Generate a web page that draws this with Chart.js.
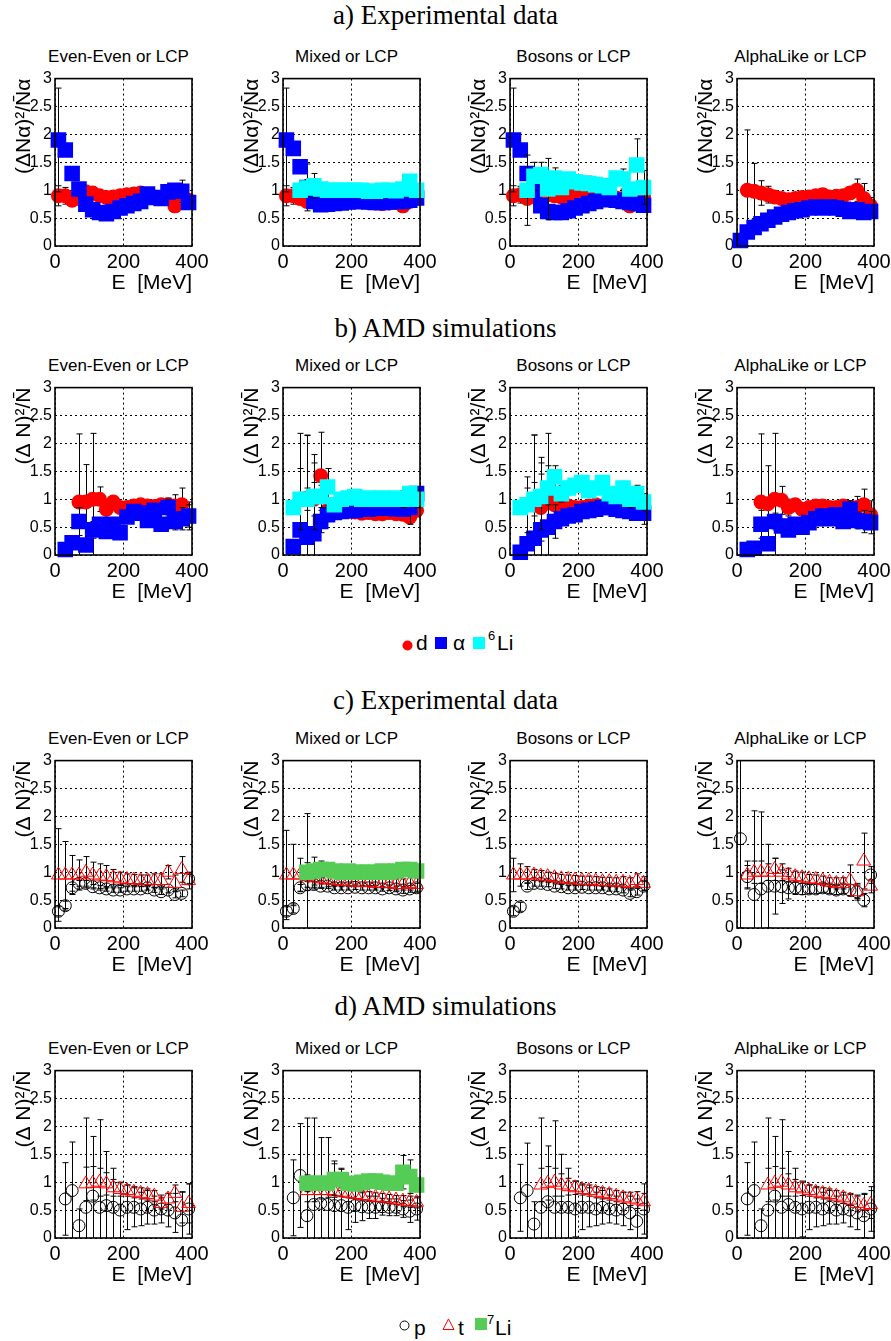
<!DOCTYPE html>
<html>
<head>
<meta charset="utf-8">
<title>Fluctuations of light charged particles</title>
<script src="https://cdn.jsdelivr.net/npm/chart.js@4.4.1/dist/chart.umd.min.js"></script>
<style>
  html, body { margin: 0; padding: 0; background: #fff; }
  #page { position: relative; width: 891px; height: 1341px; overflow: hidden;
          font-family: "Liberation Sans", Arial, sans-serif; color: #000; }
  .rowtitle { position: absolute; left: 0; width: 891px; text-align: center;
              font-family: "Liberation Serif", "Times New Roman", serif;
              font-size: 27px; line-height: 27px; white-space: nowrap; }
  .ptitle { position: absolute; width: 200px; text-align: center;
            font-size: 17px; line-height: 17px; white-space: nowrap; }
  .lg { position: absolute; line-height: 1; white-space: nowrap; }
  canvas { position: absolute; }
</style>
</head>
<body>
<div id="page"></div>
<script>
// energy bins (MeV)
const E = [10, 30, 50, 70, 90, 110, 130, 150, 170, 190, 210, 230, 250, 270, 290, 310, 330, 350, 370, 390];

// a) Experimental data : d, alpha, 6Li
const a1_d = [0.9, 0.9, 0.82, 0.85, 0.97, 0.95, 0.9, 0.87, 0.88, 0.9, 0.92, 0.93, 0.95, 0.9, 0.88, 0.87, 0.86, 0.72, 0.85, 0.82];
const a1_dErr = [0.18, 0.15, 0.05, 0.05, 0.08, 0.05, 0.04, 0.04, 0.04, 0.04, 0.04, 0.04, 0.04, 0.04, 0.05, 0.05, 0.05, 0.1, 0.08, 0.08];
const a1_alpha = [1.9, 1.72, 1.3, 1.02, 0.75, 0.65, 0.6, 0.58, 0.62, 0.68, 0.72, 0.76, 0.8, 0.93, 0.87, 0.85, 0.97, 1.0, 0.98, 0.78];
const a1_alphaErr = [0.93, 0.1, 0.08, 0.06, 0.05, 0.04, 0.04, 0.04, 0.04, 0.04, 0.04, 0.04, 0.05, 0.05, 0.05, 0.06, 0.08, 0.12, 0.2, 0.1];

const a2_d = [0.9, 0.9, 0.85, 0.8, 0.8, 0.78, 0.78, 0.78, 0.78, 0.79, 0.8, 0.8, 0.78, 0.77, 0.76, 0.77, 0.78, 0.72, 0.8, 0.85];
const a2_dErr = [0.18, 0.15, 0.05, 0.05, 0.05, 0.04, 0.04, 0.04, 0.04, 0.04, 0.04, 0.04, 0.04, 0.04, 0.05, 0.05, 0.05, 0.08, 0.06, 0.06];
const a2_alpha = [1.9, 1.75, 1.42, 1.05, 0.8, 0.74, 0.75, 0.76, 0.77, 0.79, 0.8, 0.8, 0.79, 0.78, 0.78, 0.79, 0.8, 0.8, 0.82, 0.86];
const a2_alphaErr = [0.93, 0.12, 0.1, 0.42, 0.1, 0.05, 0.04, 0.04, 0.04, 0.04, 0.04, 0.04, 0.04, 0.04, 0.05, 0.05, 0.05, 0.06, 0.06, 0.06];
const a2_li6 = [null, null, 1.0, 1.04, 1.08, 1.02, 1.0, 1.0, 1.0, 1.0, 1.0, 1.0, 0.98, 0.98, 1.0, 1.0, 0.99, 1.02, 1.16, 1.0];
const a2_li6Err = [0, 0, 0.1, 0.15, 0.22, 0.05, 0.05, 0.05, 0.05, 0.05, 0.05, 0.05, 0.05, 0.05, 0.05, 0.05, 0.06, 0.08, 0.12, 0.08];

const a3_d = [0.9, 0.92, 0.85, 0.88, 0.95, 0.92, 0.9, 0.88, 0.9, 0.93, 0.95, 0.96, 0.95, 0.93, 0.9, 0.86, 0.85, 0.72, 0.85, 0.9];
const a3_dErr = [0.18, 0.15, 0.05, 0.05, 0.06, 0.05, 0.04, 0.04, 0.04, 0.04, 0.04, 0.04, 0.04, 0.04, 0.05, 0.05, 0.05, 0.1, 0.08, 0.08];
const a3_alpha = [1.9, 1.72, 1.3, 1.0, 0.72, 0.62, 0.6, 0.6, 0.63, 0.68, 0.72, 0.76, 0.8, 0.83, 0.85, 0.82, 0.8, 0.78, 0.76, 0.73];
const a3_alphaErr = [0.93, 0.1, 0.08, 0.06, 0.05, 0.04, 0.04, 0.04, 0.04, 0.04, 0.04, 0.04, 0.05, 0.05, 0.05, 0.06, 0.08, 0.1, 0.1, 0.1];
const a3_li6 = [null, null, 1.0, 1.25, 1.28, 1.02, 1.22, 1.05, 1.2, 1.15, 1.13, 1.12, 1.1, 1.08, 1.05, 1.22, 1.2, 1.02, 1.45, 1.05];
const a3_li6Err = [0, 0, 0.63, 0.25, 0.22, 0.55, 0.18, 0.1, 0.1, 0.12, 0.12, 0.13, 0.12, 0.1, 0.1, 0.1, 0.18, 0.1, 0.47, 0.3];

const a4_d = [null, 1.0, 0.98, 0.95, 0.92, 0.88, 0.85, 0.83, 0.85, 0.87, 0.88, 0.9, 0.92, 0.88, 0.89, 0.9, 0.95, 1.0, 0.85, 0.72];
const a4_dErr = [0, 1.08, 0.5, 0.22, 0.15, 0.06, 0.05, 0.05, 0.05, 0.05, 0.05, 0.05, 0.05, 0.05, 0.05, 0.06, 0.1, 0.2, 0.27, 0.15];
const a4_alpha = [0.1, 0.25, 0.33, 0.4, 0.46, 0.52, 0.57, 0.6, 0.63, 0.65, 0.68, 0.7, 0.68, 0.7, 0.68, 0.66, 0.62, 0.65, 0.6, 0.62];
const a4_alphaErr = [0.03, 0.03, 0.03, 0.03, 0.03, 0.03, 0.03, 0.03, 0.03, 0.03, 0.04, 0.04, 0.04, 0.04, 0.05, 0.05, 0.06, 0.08, 0.1, 0.1];

// b) AMD simulations : d, alpha, 6Li
const b1_d = [null, null, null, 0.95, 0.95, 1.0, 1.0, 0.82, 0.95, 0.85, 0.85, 0.88, 0.9, 0.88, 0.87, 0.9, 0.9, 0.88, 0.9, 0.7];
const b1_dErr = [0, 0, 0, 1.22, 0.67, 1.18, 0.22, 0.15, 0.1, 0.05, 0.05, 0.05, 0.05, 0.05, 0.05, 0.1, 0.12, 0.2, 0.3, 0.25];
const b1_alpha = [null, 0.1, 0.22, 0.6, 0.18, 0.45, 0.55, 0.42, 0.55, 0.4, 0.68, 0.78, 0.75, 0.62, 0.8, 0.55, 0.85, 0.6, 0.65, 0.7];
const b1_alphaErr = [0, 0.05, 0.1, 0.25, 0.1, 0.15, 0.12, 0.1, 0.1, 0.1, 0.08, 0.08, 0.08, 0.1, 0.1, 0.1, 0.15, 0.15, 0.2, 0.2];

const b2_d = [null, null, null, 1.02, 1.0, 1.42, 0.8, 0.78, 0.78, 0.78, 0.77, 0.75, 0.76, 0.74, 0.74, 0.76, 0.74, 0.73, 0.68, 0.8];
const b2_dErr = [0, 0, 0, 1.12, 0.3, 0.78, 0.1, 0.05, 0.05, 0.05, 0.05, 0.05, 0.05, 0.05, 0.05, 0.05, 0.05, 0.08, 0.1, 0.1];
const b2_alpha = [null, 0.15, 0.45, 0.32, 0.38, 0.6, 0.72, 0.76, 0.78, 0.8, 0.8, 0.82, 0.82, 0.84, 0.84, 0.84, 0.83, 0.82, 0.85, 1.1];
const b2_alphaErr = [0, 0.1, 1.73, 1.83, 1.42, 0.2, 0.12, 0.08, 0.06, 0.05, 0.05, 0.05, 0.05, 0.05, 0.05, 0.06, 0.08, 0.1, 0.3, 0.12];
const b2_li6 = [null, 0.85, 1.0, 1.0, 1.05, 1.05, 1.22, 0.9, 1.0, 1.02, 1.05, 1.0, 1.02, 1.0, 1.02, 1.0, 1.02, 1.0, 1.1, 1.0];
const b2_li6Err = [0, 0.1, 0.55, 0.2, 0.6, 0.2, 0.33, 0.1, 0.1, 0.1, 0.08, 0.08, 0.08, 0.08, 0.08, 0.08, 0.1, 0.15, 0.1, 0.15];

const b3_d = [null, null, null, 0.9, 0.85, 1.0, 0.9, 0.85, 0.88, 0.85, 0.85, 0.88, 0.9, 0.88, 0.9, 0.9, 0.88, 0.85, 0.82, 0.75];
const b3_dErr = [0, 0, 0, 1.25, 0.6, 1.18, 0.2, 0.15, 0.1, 0.05, 0.05, 0.05, 0.05, 0.05, 0.05, 0.08, 0.1, 0.15, 0.2, 0.2];
const b3_alpha = [null, 0.05, 0.2, 0.3, 0.45, 0.5, 0.6, 0.65, 0.7, 0.72, 0.78, 0.8, 0.82, 0.85, 0.85, 0.82, 0.8, 0.78, 0.75, 0.75];
const b3_alphaErr = [0, 0.1, 1.0, 1.85, 1.3, 1.1, 0.3, 0.1, 0.08, 0.06, 0.05, 0.05, 0.05, 0.05, 0.06, 0.06, 0.08, 0.1, 0.12, 0.12];
const b3_li6 = [null, 0.85, 0.9, 1.0, 1.05, 1.2, 1.4, 1.1, 1.2, 1.25, 1.3, 1.15, 1.2, 1.3, 1.1, 1.05, 1.2, 1.0, 1.1, 0.95];
const b3_li6Err = [0, 0.1, 0.5, 0.3, 0.6, 0.3, 0.2, 0.15, 0.12, 0.12, 0.1, 0.1, 0.1, 0.1, 0.1, 0.1, 0.12, 0.15, 0.15, 0.15];

const b4_d = [null, null, null, 0.95, 0.92, 1.0, 0.98, 0.85, 0.9, 0.82, 0.85, 0.88, 0.88, 0.85, 0.85, 0.88, 0.85, 0.85, 0.9, 0.72];
const b4_dErr = [0, 0, 0, 1.22, 0.68, 1.18, 0.25, 0.15, 0.1, 0.05, 0.05, 0.05, 0.05, 0.05, 0.05, 0.1, 0.12, 0.2, 0.28, 0.25];
const b4_alpha = [null, 0.1, 0.12, 0.55, 0.2, 0.6, 0.52, 0.45, 0.55, 0.5, 0.58, 0.65, 0.7, 0.65, 0.72, 0.6, 0.82, 0.62, 0.6, 0.58];
const b4_alphaErr = [0, 0.05, 0.1, 0.25, 0.1, 0.15, 0.12, 0.1, 0.1, 0.1, 0.08, 0.08, 0.08, 0.1, 0.1, 0.1, 0.15, 0.15, 0.2, 0.2];

// c) Experimental data : p, t, 7Li
const c1_p = [0.3, 0.4, 0.72, 0.8, 0.8, 0.74, 0.72, 0.7, 0.68, 0.68, 0.7, 0.7, 0.7, 0.72, 0.68, 0.65, 0.68, 0.6, 0.62, 0.88];
const c1_pErr = [0.08, 0.08, 0.06, 0.05, 0.05, 0.04, 0.04, 0.04, 0.04, 0.04, 0.04, 0.04, 0.04, 0.04, 0.04, 0.05, 0.05, 0.06, 0.06, 0.08];
const c1_t = [0.95, 0.95, 0.95, 0.95, 1.0, 0.95, 0.93, 0.92, 0.9, 0.88, 0.87, 0.86, 0.85, 0.85, 0.85, 0.85, 1.0, 0.8, 1.05, 0.85];
const c1_tErr = [0.83, 0.6, 0.35, 0.27, 0.28, 0.23, 0.22, 0.2, 0.15, 0.12, 0.1, 0.1, 0.1, 0.1, 0.12, 0.12, 0.12, 0.15, 0.23, 0.15];

const c2_p = [0.3, 0.35, 0.72, 0.78, 0.78, 0.75, 0.75, 0.72, 0.72, 0.72, 0.73, 0.72, 0.72, 0.72, 0.7, 0.72, 0.7, 0.68, 0.7, 0.72];
const c2_pErr = [0.08, 0.08, 0.06, 0.05, 0.05, 0.04, 0.04, 0.04, 0.04, 0.04, 0.04, 0.04, 0.04, 0.04, 0.04, 0.05, 0.05, 0.06, 0.06, 0.08];
const c2_t = [0.95, 0.95, 0.95, 0.92, 0.9, 0.88, 0.86, 0.85, 0.84, 0.83, 0.82, 0.82, 0.82, 0.8, 0.8, 0.8, 0.78, 0.78, 0.8, 0.78];
const c2_tErr = [0.8, 0.55, 0.3, 0.25, 0.2, 0.15, 0.12, 0.1, 0.1, 0.08, 0.08, 0.08, 0.08, 0.08, 0.08, 0.08, 0.1, 0.1, 0.12, 0.12];
const c2_li7 = [null, null, null, 1.0, 1.02, 1.05, 1.05, 1.02, 1.0, 1.02, 1.0, 1.0, 1.0, 1.0, 1.02, 1.0, 1.02, 1.05, 1.05, 1.02];
const c2_li7Err = [0, 0, 0, 1.05, 0.25, 0.15, 0.12, 0.1, 0.08, 0.08, 0.08, 0.08, 0.08, 0.08, 0.08, 0.08, 0.1, 0.1, 0.12, 0.12];

const c3_p = [0.3, 0.38, 0.75, 0.8, 0.8, 0.78, 0.75, 0.74, 0.72, 0.72, 0.73, 0.72, 0.72, 0.72, 0.7, 0.7, 0.68, 0.62, 0.65, 0.75];
const c3_pErr = [0.08, 0.08, 0.06, 0.05, 0.05, 0.04, 0.04, 0.04, 0.04, 0.04, 0.04, 0.04, 0.04, 0.04, 0.04, 0.05, 0.05, 0.06, 0.06, 0.08];
const c3_t = [0.95, 0.95, 0.95, 0.95, 0.93, 0.92, 0.9, 0.88, 0.87, 0.86, 0.85, 0.85, 0.84, 0.83, 0.83, 0.82, 0.82, 0.8, 0.85, 0.8];
const c3_tErr = [0.3, 0.2, 0.15, 0.1, 0.1, 0.08, 0.08, 0.08, 0.08, 0.08, 0.08, 0.08, 0.08, 0.08, 0.08, 0.08, 0.1, 0.1, 0.12, 0.12];

const c4_p = [1.6, 0.92, 0.6, 0.7, 0.75, 0.75, 0.74, 0.72, 0.72, 0.7, 0.7, 0.7, 0.72, 0.7, 0.68, 0.7, 0.68, 0.65, 0.5, 0.95];
const c4_pErr = [1.6, 0.2, 1.5, 1.38, 0.75, 0.5, 0.3, 0.2, 0.12, 0.1, 0.08, 0.08, 0.08, 0.08, 0.08, 0.08, 0.1, 0.12, 0.12, 0.15];
const c4_t = [null, 0.95, 1.0, 1.0, 1.0, 1.05, 1.0, 0.95, 0.92, 0.9, 0.88, 0.87, 0.85, 0.82, 0.8, 0.8, 0.85, 0.65, 1.2, 0.75];
const c4_tErr = [0, 0.25, 0.2, 0.2, 0.15, 0.2, 0.15, 0.12, 0.1, 0.1, 0.08, 0.08, 0.08, 0.08, 0.1, 0.1, 0.28, 0.15, 0.5, 0.12];

// d) AMD simulations : p, t, 7Li
const d1_p = [null, 0.7, 0.85, 0.22, 0.55, 0.75, 0.55, 0.58, 0.55, 0.5, 0.55, 0.55, 0.52, 0.55, 0.5, 0.52, 0.5, 0.45, 0.32, 0.52];
const d1_pErr = [0, 0.65, 0.87, 0.3, 1.6, 1.07, 1.57, 0.97, 0.7, 0.5, 0.4, 0.35, 0.3, 0.3, 0.25, 0.25, 0.3, 0.35, 0.5, 0.45];
const d1_t = [null, null, null, null, 0.97, 0.98, 1.0, 0.97, 0.9, 0.87, 0.85, 0.82, 0.8, 0.78, 0.75, 0.62, 0.7, 0.8, 0.55, 0.62];
const d1_tErr = [0, 0, 0, 0, 0.3, 0.3, 0.25, 0.2, 0.15, 0.12, 0.1, 0.1, 0.1, 0.1, 0.1, 0.1, 0.1, 0.15, 0.28, 0.35];

const d2_p = [null, 0.72, 1.12, 0.4, 0.6, 0.62, 0.6, 0.58, 0.58, 0.55, 0.58, 0.56, 0.55, 0.55, 0.56, 0.55, 0.55, 0.52, 0.48, 0.52];
const d2_pErr = [0, 0.68, 0.93, 1.75, 1.55, 1.18, 1.2, 0.8, 0.65, 0.4, 0.3, 0.25, 0.2, 0.2, 0.15, 0.15, 0.15, 0.15, 0.2, 0.2];
const d2_t = [null, null, null, 0.85, 0.85, 0.85, 0.85, 0.83, 0.82, 0.8, 0.78, 0.76, 0.75, 0.73, 0.72, 0.7, 0.68, 0.66, 0.65, 0.64];
const d2_tErr = [0, 0, 0, 0.2, 0.2, 0.15, 0.12, 0.1, 0.08, 0.08, 0.08, 0.08, 0.08, 0.08, 0.08, 0.08, 0.08, 0.1, 0.1, 0.1];
const d2_li7 = [null, null, null, 0.98, 0.98, 0.98, 0.98, 1.05, 1.05, 0.98, 0.97, 1.0, 1.02, 1.02, 1.0, 0.98, 0.98, 1.18, 1.1, 0.95];
const d2_li7Err = [0, 0, 0, 0.15, 0.12, 0.1, 0.1, 0.28, 0.2, 0.1, 0.08, 0.08, 0.08, 0.08, 0.08, 0.08, 0.1, 0.3, 0.3, 0.12];

const d3_p = [null, 0.72, 0.85, 0.25, 0.55, 0.65, 0.55, 0.55, 0.55, 0.52, 0.55, 0.55, 0.52, 0.55, 0.52, 0.5, 0.52, 0.45, 0.3, 0.52];
const d3_pErr = [0, 0.6, 0.85, 0.4, 1.6, 1.0, 1.55, 0.95, 0.7, 0.5, 0.4, 0.35, 0.3, 0.3, 0.25, 0.25, 0.3, 0.3, 0.4, 0.45];
const d3_t = [null, null, null, null, 0.95, 0.98, 1.0, 0.95, 0.92, 0.9, 0.87, 0.85, 0.82, 0.8, 0.78, 0.75, 0.72, 0.7, 0.68, 0.65];
const d3_tErr = [0, 0, 0, 0, 0.3, 0.3, 0.25, 0.2, 0.15, 0.12, 0.1, 0.1, 0.1, 0.1, 0.1, 0.1, 0.1, 0.12, 0.15, 0.15];

const d4_p = [null, 0.7, 0.85, 0.22, 0.5, 0.75, 0.55, 0.6, 0.55, 0.52, 0.55, 0.55, 0.52, 0.55, 0.5, 0.52, 0.5, 0.45, 0.4, 0.52];
const d4_pErr = [0, 0.65, 0.87, 0.3, 1.65, 1.07, 1.57, 0.95, 0.7, 0.5, 0.4, 0.35, 0.3, 0.3, 0.25, 0.25, 0.3, 0.3, 0.4, 0.4];
const d4_t = [null, null, null, null, 0.95, 0.98, 1.0, 0.95, 0.9, 0.88, 0.85, 0.82, 0.8, 0.78, 0.75, 0.72, 0.68, 0.62, 0.58, 0.6];
const d4_tErr = [0, 0, 0, 0, 0.3, 0.3, 0.25, 0.2, 0.15, 0.12, 0.1, 0.1, 0.1, 0.1, 0.1, 0.1, 0.1, 0.15, 0.2, 0.25];

const colTitles = ["Even-Even or LCP", "Mixed or LCP", "Bosons or LCP", "AlphaLike or LCP"];
const rowTitles = ["a) Experimental data", "b) AMD simulations", "c) Experimental data", "d) AMD simulations"];
const yLabels = ["(ΔNα)²/N\u0304α", "(Δ N)²/N\u0304", "(Δ N)²/N\u0304", "(Δ N)²/N\u0304"];

const panels = [
  [[["d", a1_d, a1_dErr], ["alpha", a1_alpha, a1_alphaErr]],
   [["d", a2_d, a2_dErr], ["alpha", a2_alpha, a2_alphaErr], ["li6", a2_li6, a2_li6Err]],
   [["d", a3_d, a3_dErr], ["alpha", a3_alpha, a3_alphaErr], ["li6", a3_li6, a3_li6Err]],
   [["d", a4_d, a4_dErr], ["alpha", a4_alpha, a4_alphaErr]]],
  [[["d", b1_d, b1_dErr], ["alpha", b1_alpha, b1_alphaErr]],
   [["d", b2_d, b2_dErr], ["alpha", b2_alpha, b2_alphaErr], ["li6", b2_li6, b2_li6Err]],
   [["d", b3_d, b3_dErr], ["alpha", b3_alpha, b3_alphaErr], ["li6", b3_li6, b3_li6Err]],
   [["d", b4_d, b4_dErr], ["alpha", b4_alpha, b4_alphaErr]]],
  [[["p", c1_p, c1_pErr], ["t", c1_t, c1_tErr]],
   [["p", c2_p, c2_pErr], ["t", c2_t, c2_tErr], ["li7", c2_li7, c2_li7Err]],
   [["p", c3_p, c3_pErr], ["t", c3_t, c3_tErr]],
   [["p", c4_p, c4_pErr], ["t", c4_t, c4_tErr]]],
  [[["p", d1_p, d1_pErr], ["t", d1_t, d1_tErr]],
   [["p", d2_p, d2_pErr], ["t", d2_t, d2_tErr], ["li7", d2_li7, d2_li7Err]],
   [["p", d3_p, d3_pErr], ["t", d3_t, d3_tErr]],
   [["p", d4_p, d4_pErr], ["t", d4_t, d4_tErr]]]
];

// marker styles (ROOT-like)
const styles = {
  d:     { pointStyle: "circle",   pointRadius: 7.5, pointBackgroundColor: "#ff0000", pointBorderColor: "#ff0000", pointBorderWidth: 0 },
  alpha: { pointStyle: "rect",     pointRadius: 11,  pointBackgroundColor: "#0000ff", pointBorderColor: "#0000ff", pointBorderWidth: 0 },
  li6:   { pointStyle: "rect",     pointRadius: 11,  pointBackgroundColor: "#00ffff", pointBorderColor: "#00ffff", pointBorderWidth: 0 },
  p:     { pointStyle: "circle",   pointRadius: 6,   pointBackgroundColor: "rgba(0,0,0,0)", pointBorderColor: "#000", pointBorderWidth: 1 },
  t:     { pointStyle: "triangle", pointRadius: 8,   pointBackgroundColor: "rgba(0,0,0,0)", pointBorderColor: "#ff0000", pointBorderWidth: 1 },
  li7:   { pointStyle: "rect",     pointRadius: 11,  pointBackgroundColor: "#55cc55", pointBorderColor: "#55cc55", pointBorderWidth: 0 }
};

const plotLeft = [55, 283, 510, 737];
const plotTop = [76, 385, 758, 1068];
const PW = 137, PH = 170;
const FONT = '"Liberation Sans", Arial, sans-serif';

Chart.defaults.font.family = FONT;
Chart.defaults.color = "#000";

// vertical error bars, drawn just before each dataset's markers
const errorBars = {
  id: "errorBars",
  beforeDatasetDraw(chart, args) {
    const ds = chart.data.datasets[args.index];
    const { ctx, chartArea: a, scales: { x, y } } = chart;
    ctx.save();
    ctx.beginPath();
    ctx.rect(a.left, a.top, a.right - a.left, a.bottom - a.top);
    ctx.clip();
    ctx.strokeStyle = "#000";
    ctx.lineWidth = 1;
    ds.data.forEach((q) => {
      if (!q.err) return;
      const px = Math.round(x.getPixelForValue(q.x)) + 0.5;
      const y1 = y.getPixelForValue(q.y + q.err);
      const y2 = y.getPixelForValue(q.y - q.err);
      ctx.beginPath();
      ctx.moveTo(px, y1); ctx.lineTo(px, y2);
      ctx.moveTo(px - 3, y1); ctx.lineTo(px + 3, y1);
      ctx.moveTo(px - 3, y2); ctx.lineTo(px + 3, y2);
      ctx.stroke();
    });
    ctx.restore();
  }
};

// full frame around the plot area
const frame = {
  id: "frame",
  afterDraw(chart) {
    const { ctx, chartArea: a } = chart;
    ctx.save();
    ctx.strokeStyle = "#000";
    ctx.lineWidth = 1.6;
    ctx.strokeRect(a.left, a.top, a.right - a.left, a.bottom - a.top);
    ctx.restore();
  }
};

const page = document.getElementById("page");

function addText(cls, txt, left, top, extra) {
  const el = document.createElement("div");
  el.className = cls;
  el.textContent = txt;
  el.style.left = left + "px";
  el.style.top = top + "px";
  if (extra) Object.assign(el.style, extra);
  page.appendChild(el);
  return el;
}

// row titles (baseline positions)
const rowBase = [25, 338, 710, 1016];
rowTitles.forEach((t, r) => addText("rowtitle", t, 0, rowBase[r] - 0.84 * 27));

panels.forEach((rowPanels, r) => {
  rowPanels.forEach((series, c) => {
    const L = plotLeft[c], T = plotTop[r];
    addText("ptitle", colTitles[c], L + PW / 2 - 5 - 100, T - 20 - 8.5);

    const cv = document.createElement("canvas");
    const W = 55 + PW + 25, H = 10 + PH + 50;
    cv.width = W; cv.height = H;
    cv.style.left = (L - 55) + "px";
    cv.style.top = (T - 10) + "px";
    cv.style.width = W + "px";
    cv.style.height = H + "px";
    page.appendChild(cv);

    const datasets = series.map(([kind, vals, errs]) => ({
      label: kind,
      data: E.map((x, i) => ({ x: x, y: vals[i], err: errs[i] })).filter((q) => q.y !== null),
      showLine: false,
      clip: 6,
      ...styles[kind]
    })).reverse();

    new Chart(cv, {
      type: "scatter",
      data: { datasets },
      options: {
        responsive: false,
        animation: false,
        events: [],
        layout: { padding: { left: 0, right: 25, top: 10, bottom: 0 } },
        plugins: { legend: { display: false }, tooltip: { enabled: false } },
        scales: {
          x: {
            type: "linear", min: 0, max: 400,
            afterFit: (s) => { s.height = 50; },
            ticks: { stepSize: 200, padding: 4, font: { size: 20 }, color: "#000", maxRotation: 0 },
            grid: { color: "#000", lineWidth: 1, drawTicks: false },
            border: { display: false, dash: [2, 3] },
            title: { display: true, text: "E  [MeV]", align: "end", font: { size: 21 }, padding: { top: 0, bottom: 0 }, color: "#000" }
          },
          y: {
            type: "linear", min: 0, max: 3,
            afterFit: (s) => { s.width = 55; },
            ticks: { stepSize: 0.5, padding: 3, font: { size: 16 }, color: "#000", callback: (v) => String(v) },
            grid: { color: "#000", lineWidth: 1, drawTicks: false },
            border: { display: false, dash: [2, 3] },
            title: { display: true, text: yLabels[r], align: "end", font: { size: 21 }, padding: { top: 12, bottom: 0 }, color: "#000" }
          }
        }
      },
      plugins: [errorBars, frame]
    });
  });
});

// legends
function svgMarker(svg, left, top, w, h) {
  const el = document.createElement("div");
  el.className = "lg";
  el.style.left = left + "px";
  el.style.top = top + "px";
  el.style.width = w + "px";
  el.style.height = h + "px";
  el.innerHTML = '<svg width="' + w + '" height="' + h + '" xmlns="http://www.w3.org/2000/svg">' + svg + "</svg>";
  page.appendChild(el);
}
function lgText(txt, left, base, size) {
  addText("lg", txt, left, base - 0.86 * size, { fontSize: size + "px" });
}

// d, alpha, 6Li
svgMarker('<circle cx="5.5" cy="5.5" r="5" fill="#ff0000"/>', 402, 638, 11, 11);
lgText("d", 416, 650, 21);
svgMarker('<rect x="0" y="0" width="12" height="12" fill="#0000ff"/>', 435, 636, 12, 12);
lgText("α", 453, 650, 21);
svgMarker('<rect x="0" y="0" width="12" height="12" fill="#00ffff"/>', 473, 636, 12, 12);
lgText("6", 488, 640, 13);
lgText("Li", 497, 650, 21);

// p, t, 7Li
svgMarker('<circle cx="5.5" cy="5.5" r="4.5" fill="none" stroke="#000" stroke-width="1"/>', 399, 1318, 11, 11);
lgText("p", 414, 1335, 21);
svgMarker('<polygon points="6.5,1 12,11.5 1,11.5" fill="none" stroke="#ff0000" stroke-width="1"/>', 442, 1318, 13, 13);
lgText("t", 458, 1335, 21);
svgMarker('<rect x="0" y="0" width="12" height="12" fill="#55cc55"/>', 475, 1317, 12, 12);
lgText("7", 487, 1324, 13);
lgText("Li", 495, 1335, 21);
</script>
</body>
</html>
